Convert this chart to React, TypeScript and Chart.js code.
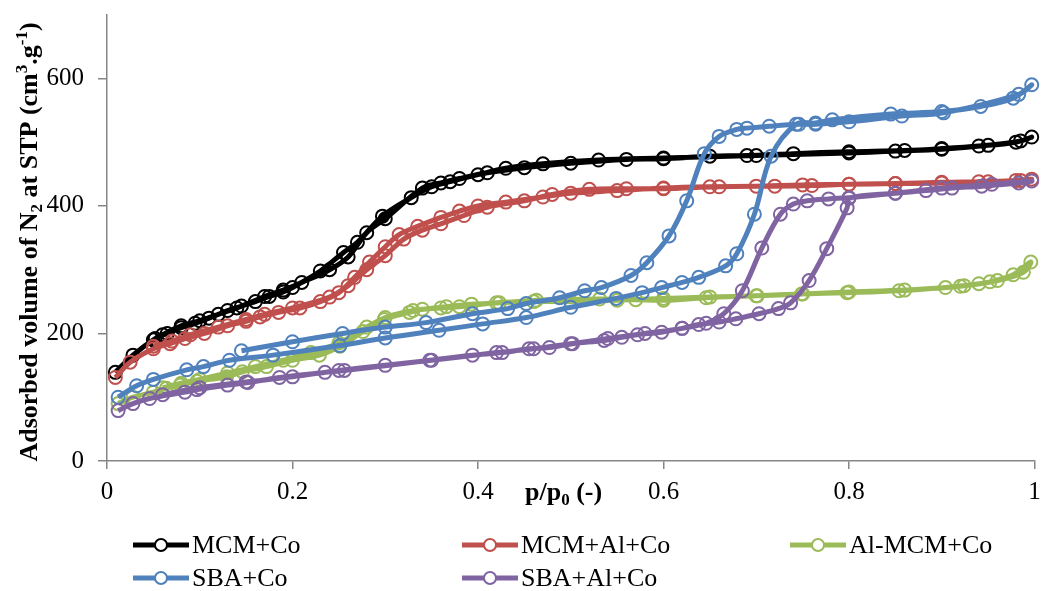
import React, { useEffect, useRef } from "react";
import { Chart, registerables } from "chart.js";

Chart.register(...registerables);

// ---------- DATA ----------
const seriesNames = ["MCM+Co", "MCM+Al+Co", "Al-MCM+Co", "SBA+Co", "SBA+Al+Co"];
const seriesColors = ["#000000", "#C0504D", "#9BBB59", "#4F81BD", "#8064A2"];

const xTickValues = [0, 0.2, 0.4, 0.6, 0.8, 1];
const xTickLabels = ["0", "0.2", "0.4", "0.6", "0.8", "1"];
const yTickValues = [0, 200, 400, 600];
const yTickLabels = ["0", "200", "400", "600"];

// MCM+Co : adsorption then desorption
const mcmCoP = [0.009, 0.028, 0.052, 0.065, 0.08, 0.095, 0.11, 0.13, 0.145, 0.16, 0.175, 0.19, 0.2, 0.23, 0.255, 0.27, 0.297, 0.328, 0.35, 0.37, 0.4, 0.43, 0.47, 0.53, 0.6, 0.7, 0.8, 0.85, 0.9, 0.95, 0.985, 0.997,
  0.98, 0.94, 0.9, 0.86, 0.8, 0.74, 0.69, 0.65, 0.6, 0.56, 0.5, 0.45, 0.41, 0.38, 0.36, 0.34, 0.3, 0.28, 0.26, 0.24, 0.21, 0.19, 0.17, 0.14, 0.12, 0.1, 0.08, 0.06, 0.05];
const mcmCoV = [139, 166, 192, 200, 209, 216, 224, 236, 243, 250, 258, 265, 272, 298, 327, 343, 384, 413, 430, 438, 449, 459, 466, 472, 475, 479, 483, 486, 489, 495, 502, 508,
  500, 494, 490, 487, 485, 482, 479, 478, 474, 473, 467, 460, 452, 443, 436, 428, 380, 358, 320, 300, 280, 268, 258, 240, 230, 220, 212, 198, 190];

// MCM+Al+Co
const mcmAlCoP = [0.009, 0.025, 0.05, 0.068, 0.084, 0.105, 0.13, 0.15, 0.165, 0.185, 0.208, 0.23, 0.25, 0.267, 0.283, 0.3, 0.315, 0.335, 0.36, 0.38, 0.4, 0.43, 0.47, 0.5, 0.55, 0.6, 0.65, 0.7, 0.75, 0.8, 0.85, 0.9, 0.95, 0.985, 0.997,
  0.98, 0.94, 0.9, 0.85, 0.8, 0.76, 0.72, 0.66, 0.6, 0.56, 0.52, 0.48, 0.45, 0.41, 0.385, 0.36, 0.34, 0.32, 0.3, 0.28, 0.26, 0.24, 0.2, 0.17, 0.15, 0.12, 0.09, 0.07, 0.05];
const mcmAlCoV = [131, 155, 176, 184, 192, 200, 212, 219, 226, 233, 240, 250, 264, 288, 312, 336, 355, 368, 382, 392, 400, 406, 414, 420, 424, 428, 430, 431, 433, 434, 435, 437, 438, 440, 442,
  440, 438, 436, 435, 434, 432, 431, 430, 427, 427, 426, 418, 408, 398, 385, 372, 362, 348, 322, 300, 275, 257, 240, 230, 222, 210, 198, 188, 180];

// Al-MCM+Co
const alMcmCoP = [0.012, 0.028, 0.05, 0.064, 0.079, 0.097, 0.129, 0.146, 0.172, 0.2, 0.229, 0.251, 0.276, 0.299, 0.326, 0.34, 0.366, 0.393, 0.423, 0.463, 0.531, 0.57, 0.6, 0.646, 0.701, 0.749, 0.798, 0.854, 0.904, 0.924, 0.94, 0.952, 0.977, 0.996,
  0.988, 0.96, 0.92, 0.86, 0.8, 0.75, 0.7, 0.65, 0.6, 0.55, 0.5, 0.46, 0.42, 0.38, 0.36, 0.33, 0.3, 0.28, 0.25, 0.22, 0.19, 0.16, 0.13, 0.1, 0.08, 0.06];
const alMcmCoV = [90, 100, 108, 114, 119, 125, 132, 140, 148, 158, 166, 180, 203, 222, 233, 238, 242, 246, 248, 252, 254, 253, 252, 256, 259, 262, 264, 267, 272, 275, 278, 281, 292, 312,
  296, 283, 274, 268, 265, 262, 259, 257, 255, 252, 250, 250, 248, 242, 240, 236, 225, 210, 185, 170, 158, 148, 138, 128, 122, 115];

// SBA+Co
const sbaCoP = [0.012, 0.032, 0.05, 0.086, 0.104, 0.132, 0.179, 0.251, 0.3, 0.358, 0.405, 0.452, 0.5, 0.549, 0.577, 0.598, 0.62, 0.638, 0.667, 0.679, 0.698, 0.716, 0.743, 0.764, 0.782, 0.845, 0.9, 0.942, 0.977, 0.997,
  0.983, 0.902, 0.857, 0.8, 0.764, 0.746, 0.714, 0.69, 0.679, 0.66, 0.644, 0.625, 0.606, 0.582, 0.565, 0.533, 0.515, 0.488, 0.452, 0.432, 0.394, 0.344, 0.3, 0.254, 0.2, 0.145];
const sbaCoV = [100, 118, 128, 143, 148, 158, 166, 181, 193, 205, 215, 225, 241, 255, 264, 272, 280, 288, 306, 325, 387, 478, 528, 530, 535, 544, 548, 556, 569, 590,
  575, 546, 541, 532, 528, 528, 525, 522, 520, 509, 482, 408, 353, 311, 291, 272, 267, 256, 247, 239, 231, 217, 210, 200, 187, 173];

// SBA+Al+Co
const sbaAlCoP = [0.012, 0.028, 0.046, 0.084, 0.097, 0.13, 0.152, 0.186, 0.235, 0.256, 0.348, 0.394, 0.426, 0.455, 0.477, 0.502, 0.536, 0.555, 0.572, 0.598, 0.62, 0.638, 0.66, 0.678, 0.703, 0.724, 0.737, 0.757, 0.776, 0.798, 0.8, 0.85, 0.883, 0.911, 0.943, 0.983, 0.997,
  0.954, 0.9, 0.85, 0.8, 0.778, 0.755, 0.74, 0.726, 0.706, 0.685, 0.665, 0.646, 0.62, 0.58, 0.54, 0.5, 0.46, 0.42, 0.35, 0.3, 0.25, 0.2, 0.15, 0.1, 0.06];
const sbaAlCoV = [79, 90, 98, 108, 112, 119, 123, 131, 139, 142, 158, 166, 170, 176, 178, 184, 189, 194, 198, 202, 208, 214, 218, 223, 231, 239, 248, 283, 333, 397, 412, 420, 424, 428, 431, 436, 439,
  434, 428, 420, 413, 411, 408, 403, 387, 334, 267, 231, 216, 208, 200, 192, 184, 176, 170, 158, 150, 142, 132, 124, 115, 104];

const seriesP = [mcmCoP, mcmAlCoP, alMcmCoP, sbaCoP, sbaAlCoP];
const seriesV = [mcmCoV, mcmAlCoV, alMcmCoV, sbaCoV, sbaAlCoV];

const xTitleMain = "p/p";
const xTitleSub = "0";
const xTitleTail = " (-)";

// ---------- STYLE ----------
const FONT = '"Liberation Serif", "Times New Roman", serif';
const AXIS_GRAY = "#868686";

const textPlugin = {
  id: "customText",
  afterDraw(chart: any) {
    const ctx = chart.ctx as CanvasRenderingContext2D;
    ctx.save();
    ctx.fillStyle = "#000";

    // Y title (rotated, with sub/superscripts)
    const big = 26;
    const small = 17;
    const segs: { t: string; k: string }[] = [
      { t: "Adsorbed volume of N", k: "n" },
      { t: "2", k: "sub" },
      { t: " at STP (cm", k: "n" },
      { t: "3", k: "sup" },
      { t: ".g", k: "n" },
      { t: "-1", k: "sup" },
      { t: ")", k: "n" },
    ];
    const fontFor = (k: string) => `bold ${k === "n" ? big : small}px ${FONT}`;
    let total = 0;
    for (const s of segs) {
      ctx.font = fontFor(s.k);
      total += ctx.measureText(s.t).width;
    }
    ctx.translate(37, 242);
    ctx.rotate(-Math.PI / 2);
    ctx.textBaseline = "alphabetic";
    ctx.textAlign = "left";
    let x = -total / 2;
    for (const s of segs) {
      ctx.font = fontFor(s.k);
      const dy = s.k === "sup" ? -10 : s.k === "sub" ? 5 : 0;
      ctx.fillText(s.t, x, dy);
      x += ctx.measureText(s.t).width;
    }
    ctx.restore();

    // X title
    ctx.save();
    ctx.fillStyle = "#000";
    ctx.textBaseline = "alphabetic";
    ctx.textAlign = "left";
    let xx = 525;
    const by = 500;
    ctx.font = `bold ${big}px ${FONT}`;
    ctx.fillText(xTitleMain, xx, by);
    xx += ctx.measureText(xTitleMain).width;
    ctx.font = `bold ${small}px ${FONT}`;
    ctx.fillText(xTitleSub, xx, by + 5);
    xx += ctx.measureText(xTitleSub).width;
    ctx.font = `bold ${big}px ${FONT}`;
    ctx.fillText(xTitleTail, xx, by);
    ctx.restore();

    // Legend
    ctx.save();
    const cols = [133, 462, 790];
    const rows = [545, 578];
    seriesNames.forEach((name, i) => {
      const lx = cols[i % 3];
      const ly = rows[Math.floor(i / 3)];
      ctx.strokeStyle = seriesColors[i];
      ctx.lineWidth = 5;
      ctx.lineCap = "butt";
      ctx.beginPath();
      ctx.moveTo(lx, ly);
      ctx.lineTo(lx + 56, ly);
      ctx.stroke();
      ctx.beginPath();
      ctx.arc(lx + 28, ly, 6, 0, Math.PI * 2);
      ctx.fillStyle = "#fff";
      ctx.fill();
      ctx.lineWidth = 2;
      ctx.stroke();
      ctx.fillStyle = "#000";
      ctx.font = `26px ${FONT}`;
      ctx.textBaseline = "middle";
      ctx.textAlign = "left";
      ctx.fillText(name, lx + 59, ly + 1);
    });
    ctx.restore();
  },
};

export default function App() {
  const canvasRef = useRef<HTMLCanvasElement | null>(null);

  useEffect(() => {
    document.body.style.margin = "0";
    const canvas = canvasRef.current;
    if (!canvas) return;

    const datasets = seriesNames.map((name, i) => ({
      label: name,
      data: seriesP[i].map((p, j) => ({ x: p, y: seriesV[i][j] })),
      showLine: true,
      borderColor: seriesColors[i],
      borderWidth: 5,
      tension: 0.35,
      pointRadius: 6.5,
      pointBorderWidth: 2,
      pointBorderColor: seriesColors[i],
      pointBackgroundColor: "rgba(255,255,255,0)",
      pointStyle: "circle",
      order: -i,
      clip: false as any,
    }));

    const chart = new Chart(canvas, {
      type: "scatter",
      data: { datasets },
      options: {
        animation: false,
        responsive: false,
        devicePixelRatio: 1,
        events: [],
        layout: { padding: { top: 0, right: 1, left: 0, bottom: 0 } },
        plugins: {
          legend: { display: false },
          tooltip: { enabled: false },
          title: { display: false },
        },
        scales: {
          x: {
            type: "linear",
            min: 0,
            max: 1,
            afterBuildTicks: (s: any) => {
              s.ticks = xTickValues.map((v) => ({ value: v }));
            },
            afterFit: (s: any) => {
              s.height = 130;
            },
            ticks: {
              callback: (_v: any, idx: number) => xTickLabels[idx],
              font: { family: FONT, size: 25, lineHeight: 1.84 },
              color: "#000",
              padding: 0,
              maxRotation: 0,
            },
            grid: {
              display: true,
              drawOnChartArea: false,
              drawTicks: true,
              tickLength: 8,
              color: AXIS_GRAY,
              lineWidth: 1.5,
            },
            border: { display: true, color: AXIS_GRAY, width: 1.5 },
          },
          y: {
            type: "linear",
            min: 0,
            max: 700,
            afterBuildTicks: (s: any) => {
              s.ticks = yTickValues.map((v) => ({ value: v }));
            },
            afterFit: (s: any) => {
              s.width = 107;
            },
            ticks: {
              callback: (_v: any, idx: number) => yTickLabels[idx],
              font: { family: FONT, size: 25, lineHeight: 0.05 },
              color: "#000",
              padding: 14,
            },
            grid: {
              display: true,
              drawOnChartArea: false,
              drawTicks: true,
              tickLength: 9,
              color: AXIS_GRAY,
              lineWidth: 1.5,
            },
            border: { display: true, color: AXIS_GRAY, width: 1.5 },
          },
        },
      },
      plugins: [textPlugin],
    } as any);

    return () => {
      chart.destroy();
    };
  }, []);

  return (
    <div style={{ position: "absolute", left: 0, top: 0, width: 1043, height: 591, background: "#fff" }}>
      <canvas ref={canvasRef} width={1043} height={591} style={{ width: 1043, height: 591, display: "block" }} />
    </div>
  );
}
